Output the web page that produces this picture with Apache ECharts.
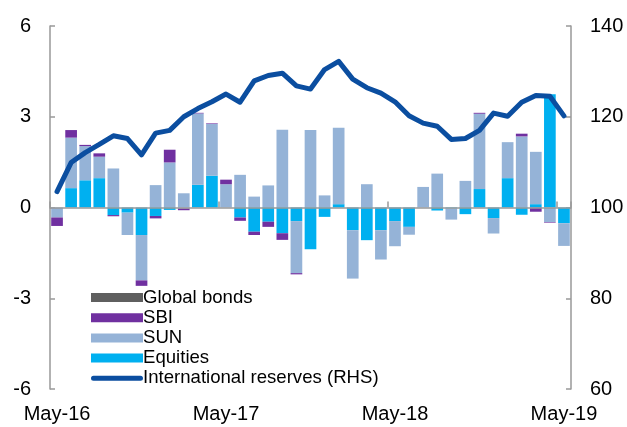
<!DOCTYPE html>
<html><head><meta charset="utf-8">
<script src="https://cdn.jsdelivr.net/npm/echarts@6/dist/echarts.min.js"></script>
<style>html,body{margin:0;padding:0;background:#fff}#c{width:627px;height:427px}</style>
</head><body><div id="c"></div>
<script>
const months = ['May-16','Jun-16','Jul-16','Aug-16','Sep-16','Oct-16','Nov-16','Dec-16','Jan-17','Feb-17','Mar-17','Apr-17',
 'May-17','Jun-17','Jul-17','Aug-17','Sep-17','Oct-17','Nov-17','Dec-17','Jan-18','Feb-18','Mar-18','Apr-18',
 'May-18','Jun-18','Jul-18','Aug-18','Sep-18','Oct-18','Nov-18','Dec-18','Jan-19','Feb-19','Mar-19','Apr-19','May-19'];
// positive and negative parts of each flow component (stacked by sign)
const equitiesPos = [0,0.64,0.90,0.97,0,0,0,0,0,0,0.75,1.05, 0,0,0,0,0,0,0,0,0.11,0,0,0, 0,0,0,0,0,0,0.61,0,0.97,0,0.11,3.74,0];
const equitiesNeg = [0,0,0,0,-0.25,-0.17,-0.91,-0.28,-0.08,0,0,0, 0,-0.33,-0.80,-0.47,-0.85,-0.45,-1.38,-0.31,0,-0.75,-1.08,-0.75, -0.45,-0.64,0,-0.10,-0.03,-0.22,0,-0.35,0,-0.24,0,0,-0.52];
const sunPos = [0,1.67,1.13,0.71,1.29,0,0,0.74,1.49,0.47,2.36,1.71, 0.77,1.08,0.36,0.73,2.57,0,2.56,0.40,2.53,0,0.77,0, 0,0,0.68,1.12,0,0.88,2.49,0,1.19,2.35,1.73,0,0];
const sunNeg = [-0.33,0,0,0,0,-0.74,-1.50,0,0,-0.03,0,0, 0,0,0,0,0,-1.72,0,0,0,-1.60,0,-0.97, -0.83,-0.26,0,0,-0.37,0,0,-0.51,0,0,0,-0.48,-0.75];
const sbiPos = [0,0.25,0.04,0.11,0,0,0,0,0.42,0,0.02,0.02, 0.15,0,0,0,0,0,0,0,0,0,0,0, 0,0,0,0,0,0,0.03,0,0,0.09,0,0,0];
const sbiNeg = [-0.28,0,0,0,-0.04,0,-0.18,-0.08,0,-0.06,0,0, 0,-0.11,-0.11,-0.17,-0.22,-0.04,0,0,0,0,0,0, 0,0,0,0,0,0,0,0,0,0,-0.14,-0.02,0];
const globalBonds = [0,0,0,0,0,0,0,0,0,0,0,0, 0,0,0,0,0,0,0,0,0,0,0,0, 0,0,0,0,0,0,0,0,0,0,0,0,0];
const reserves = [103.5,109.9,112.1,113.9,115.8,115.2,111.6,116.4,117.0,120.0,121.8,123.3,
 125.0,123.2,127.9,129.1,129.6,126.8,126.1,130.4,132.2,128.3,126.4,125.2,
 123.3,120.2,118.6,117.9,115.0,115.2,117.0,120.8,120.1,123.2,124.7,124.5,120.2];
const leftTicks = [-6,-3,0,3,6];
const rightTicks = [60,80,100,120,140];

const C = {eq:'#00B0F0', sun:'#95B3D7', sbi:'#7030A0', gb:'#5F5F5F', line:'#0B4EA0', axis:'#999999'};
const font = 'Arial, "Liberation Sans", sans-serif';
const chart = echarts.init(document.getElementById('c'), null, {renderer:'canvas'});
function bar(name, data, color){
  return {type:'bar', name, data, stack:'flows', stackStrategy:'samesign', xAxisIndex:0, yAxisIndex:0,
    barCategoryGap:'17%', itemStyle:{color}, emphasis:{disabled:true}};
}
const capsule = 'path://M0,0L0.01,0Z M2.5,2 L49.5,2 A2.5,2.5 0 0 1 49.5,7 L2.5,7 A2.5,2.5 0 0 1 2.5,2 Z M0,9L0.01,9Z';
chart.setOption({
  animation:false,
  grid:{left:50, right:56, top:26, bottom:38},
  legend:{
    orient:'vertical', left:86, top:283, itemWidth:52, itemHeight:9, itemGap:1.2,
    textStyle:{fontFamily:font, fontSize:18.6, color:'#000', lineHeight:18, padding:[0,0,0,-5]},
    data:[{name:'Global bonds', icon:'rect'},{name:'SBI', icon:'rect'},{name:'SUN', icon:'rect'},{name:'Equities', icon:'rect'},
          {name:'International reserves (RHS)', icon:capsule, itemStyle:{color:C.line}}],
    selectedMode:false
  },
  xAxis:[
    {type:'category', data:months, position:'bottom', axisLine:{onZero:true, lineStyle:{color:C.axis, width:1.5}},
     axisTick:{show:true, inside:true, length:6, interval:11, lineStyle:{color:C.axis, width:1.5}},
     axisLabel:{show:false}, z:3},
    {type:'category', data:months, position:'bottom', axisLine:{show:false}, axisTick:{show:false},
     axisLabel:{interval:11, margin:15, fontFamily:font, fontSize:20, color:'#000'}}
  ],
  yAxis:[
    {type:'value', min:leftTicks[0], max:leftTicks[leftTicks.length-1], interval:3, position:'left',
     axisLine:{show:true, lineStyle:{color:C.axis, width:1.5}},
     axisTick:{show:true, inside:true, length:5, lineStyle:{color:C.axis, width:1.5}},
     axisLabel:{margin:19, fontFamily:font, fontSize:20, color:'#000'}, splitLine:{show:false}},
    {type:'value', min:rightTicks[0], max:rightTicks[rightTicks.length-1], interval:20, position:'right',
     axisLine:{show:true, lineStyle:{color:C.axis, width:1.5}},
     axisTick:{show:true, inside:true, length:5, lineStyle:{color:C.axis, width:1.5}},
     axisLabel:{margin:19, fontFamily:font, fontSize:20, color:'#000'}, splitLine:{show:false}}
  ],
  series:[
    bar('Equities', equitiesPos, C.eq),
    bar('SUN', sunPos, C.sun),
    bar('SBI', sbiPos, C.sbi),
    bar('Global bonds', globalBonds, C.gb),
    bar('Equities', equitiesNeg, C.eq),
    bar('SUN', sunNeg, C.sun),
    bar('SBI', sbiNeg, C.sbi),
    {type:'line', name:'International reserves (RHS)', data:reserves, xAxisIndex:0, yAxisIndex:1,
     symbol:'none', lineStyle:{color:C.line, width:5, cap:'round', join:'round'}, itemStyle:{color:C.line}, z:5}
  ]
});
</script></body></html>
